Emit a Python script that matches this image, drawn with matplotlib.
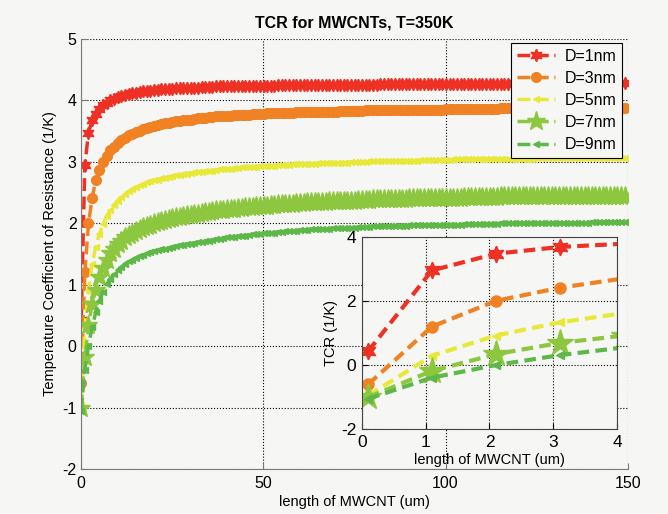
import matplotlib
matplotlib.use('Agg')
import matplotlib.pyplot as plt
import numpy as np

plt.rcParams['font.family'] = ['Liberation Sans', 'DejaVu Sans']
plt.rcParams['axes.unicode_minus'] = False

# length of MWCNT (um), sampled every 1 um starting at 0.1
length_um = np.arange(150) + 0.1

tcr_d1 = [0.43, 2.95, 3.47, 3.68, 3.78, 3.86, 3.92, 3.96, 4.00, 4.03,
          4.05, 4.07, 4.09, 4.10, 4.12, 4.13, 4.14, 4.15, 4.15, 4.16,
          4.17, 4.17, 4.18, 4.18, 4.19, 4.19, 4.20, 4.20, 4.20, 4.21,
          4.21, 4.21, 4.21, 4.22, 4.22, 4.22, 4.22, 4.23, 4.23, 4.23,
          4.23, 4.23, 4.23, 4.23, 4.23, 4.24, 4.24, 4.24, 4.24, 4.24,
          4.24, 4.24, 4.24, 4.24, 4.25, 4.25, 4.25, 4.25, 4.25, 4.25,
          4.25, 4.25, 4.25, 4.25, 4.26, 4.26, 4.26, 4.26, 4.26, 4.26,
          4.26, 4.26, 4.26, 4.26, 4.26, 4.26, 4.26, 4.26, 4.26, 4.26,
          4.26, 4.26, 4.27, 4.27, 4.27, 4.27, 4.27, 4.27, 4.27, 4.27,
          4.27, 4.27, 4.27, 4.27, 4.27, 4.27, 4.27, 4.27, 4.27, 4.27,
          4.27, 4.27, 4.27, 4.27, 4.27, 4.27, 4.27, 4.27, 4.27, 4.27,
          4.27, 4.27, 4.27, 4.27, 4.27, 4.27, 4.27, 4.27, 4.28, 4.28,
          4.28, 4.28, 4.28, 4.28, 4.28, 4.28, 4.28, 4.28, 4.28, 4.28,
          4.28, 4.28, 4.28, 4.28, 4.28, 4.28, 4.28, 4.28, 4.28, 4.28,
          4.28, 4.28, 4.28, 4.28, 4.28, 4.28, 4.28, 4.28, 4.28, 4.28]

tcr_d3 = [-0.60, 1.20, 2.00, 2.41, 2.70, 2.87, 3.00, 3.10, 3.19, 3.25,
          3.31, 3.35, 3.39, 3.43, 3.46, 3.49, 3.51, 3.53, 3.55, 3.57,
          3.59, 3.60, 3.62, 3.63, 3.64, 3.65, 3.66, 3.67, 3.68, 3.69,
          3.69, 3.70, 3.71, 3.71, 3.72, 3.73, 3.73, 3.74, 3.74, 3.75,
          3.75, 3.75, 3.76, 3.76, 3.77, 3.77, 3.77, 3.78, 3.78, 3.78,
          3.78, 3.79, 3.79, 3.79, 3.79, 3.80, 3.80, 3.80, 3.80, 3.81,
          3.81, 3.81, 3.81, 3.81, 3.82, 3.82, 3.82, 3.82, 3.82, 3.82,
          3.82, 3.83, 3.83, 3.83, 3.83, 3.83, 3.83, 3.83, 3.84, 3.84,
          3.84, 3.84, 3.84, 3.84, 3.84, 3.84, 3.84, 3.84, 3.85, 3.85,
          3.85, 3.85, 3.85, 3.85, 3.85, 3.85, 3.85, 3.85, 3.85, 3.85,
          3.86, 3.86, 3.86, 3.86, 3.86, 3.86, 3.86, 3.86, 3.86, 3.86,
          3.86, 3.86, 3.86, 3.86, 3.86, 3.87, 3.87, 3.87, 3.87, 3.87,
          3.87, 3.87, 3.87, 3.87, 3.87, 3.87, 3.87, 3.87, 3.87, 3.87,
          3.87, 3.87, 3.87, 3.87, 3.87, 3.87, 3.88, 3.88, 3.88, 3.88,
          3.88, 3.88, 3.88, 3.88, 3.88, 3.88, 3.88, 3.88, 3.88, 3.88]

tcr_d5 = [-0.95, 0.29, 0.92, 1.33, 1.62, 1.83, 1.99, 2.12, 2.22, 2.30,
          2.37, 2.43, 2.48, 2.52, 2.56, 2.59, 2.62, 2.64, 2.67, 2.69,
          2.70, 2.71, 2.73, 2.74, 2.76, 2.77, 2.78, 2.79, 2.80, 2.81,
          2.82, 2.83, 2.83, 2.84, 2.85, 2.86, 2.86, 2.87, 2.88, 2.88,
          2.89, 2.89, 2.90, 2.90, 2.91, 2.91, 2.92, 2.92, 2.92, 2.93,
          2.93, 2.94, 2.94, 2.94, 2.95, 2.95, 2.95, 2.95, 2.96, 2.96,
          2.96, 2.97, 2.97, 2.97, 2.97, 2.98, 2.98, 2.98, 2.98, 2.99,
          2.99, 2.99, 2.99, 2.99, 3.00, 3.00, 3.00, 3.00, 3.00, 3.01,
          3.01, 3.01, 3.01, 3.01, 3.01, 3.01, 3.02, 3.02, 3.02, 3.02,
          3.02, 3.02, 3.02, 3.03, 3.03, 3.03, 3.03, 3.03, 3.03, 3.03,
          3.03, 3.03, 3.04, 3.04, 3.04, 3.04, 3.04, 3.04, 3.04, 3.04,
          3.04, 3.04, 3.04, 3.05, 3.05, 3.05, 3.05, 3.05, 3.05, 3.05,
          3.05, 3.05, 3.05, 3.05, 3.05, 3.06, 3.06, 3.06, 3.06, 3.06,
          3.06, 3.06, 3.06, 3.06, 3.06, 3.06, 3.06, 3.06, 3.06, 3.06,
          3.06, 3.07, 3.07, 3.07, 3.07, 3.07, 3.07, 3.07, 3.07, 3.07]

tcr_d7 = [-1.00, -0.18, 0.34, 0.69, 0.92, 1.12, 1.28, 1.41, 1.51, 1.59,
          1.66, 1.72, 1.77, 1.81, 1.85, 1.88, 1.91, 1.94, 1.96, 1.98,
          2.00, 2.02, 2.04, 2.05, 2.07, 2.08, 2.10, 2.11, 2.12, 2.13,
          2.14, 2.15, 2.16, 2.17, 2.18, 2.19, 2.20, 2.21, 2.21, 2.22,
          2.23, 2.23, 2.24, 2.25, 2.25, 2.26, 2.27, 2.27, 2.28, 2.28,
          2.29, 2.29, 2.30, 2.30, 2.31, 2.31, 2.32, 2.32, 2.32, 2.33,
          2.33, 2.33, 2.34, 2.34, 2.34, 2.35, 2.35, 2.35, 2.36, 2.36,
          2.36, 2.36, 2.37, 2.37, 2.37, 2.37, 2.38, 2.38, 2.38, 2.38,
          2.39, 2.39, 2.39, 2.39, 2.39, 2.40, 2.40, 2.40, 2.40, 2.40,
          2.41, 2.41, 2.41, 2.41, 2.41, 2.41, 2.41, 2.42, 2.42, 2.42,
          2.42, 2.42, 2.42, 2.42, 2.42, 2.43, 2.43, 2.43, 2.43, 2.43,
          2.43, 2.43, 2.43, 2.43, 2.43, 2.44, 2.44, 2.44, 2.44, 2.44,
          2.44, 2.44, 2.44, 2.44, 2.44, 2.44, 2.44, 2.44, 2.45, 2.45,
          2.45, 2.45, 2.45, 2.45, 2.45, 2.45, 2.45, 2.45, 2.45, 2.45,
          2.45, 2.45, 2.45, 2.45, 2.45, 2.45, 2.45, 2.45, 2.45, 2.45]

tcr_d9 = [-1.05, -0.39, 0.00, 0.31, 0.55, 0.74, 0.89, 1.01, 1.10, 1.18,
          1.24, 1.29, 1.34, 1.38, 1.41, 1.44, 1.47, 1.49, 1.51, 1.53,
          1.55, 1.56, 1.58, 1.59, 1.60, 1.62, 1.63, 1.64, 1.65, 1.66,
          1.67, 1.68, 1.69, 1.70, 1.71, 1.72, 1.73, 1.74, 1.75, 1.76,
          1.77, 1.78, 1.78, 1.79, 1.80, 1.80, 1.81, 1.82, 1.82, 1.83,
          1.84, 1.84, 1.85, 1.85, 1.86, 1.86, 1.87, 1.87, 1.88, 1.88,
          1.89, 1.89, 1.89, 1.90, 1.90, 1.90, 1.91, 1.91, 1.91, 1.92,
          1.92, 1.92, 1.93, 1.93, 1.93, 1.93, 1.94, 1.94, 1.94, 1.94,
          1.95, 1.95, 1.95, 1.95, 1.95, 1.96, 1.96, 1.96, 1.96, 1.96,
          1.97, 1.97, 1.97, 1.97, 1.97, 1.97, 1.97, 1.98, 1.98, 1.98,
          1.98, 1.98, 1.98, 1.98, 1.98, 1.99, 1.99, 1.99, 1.99, 1.99,
          1.99, 1.99, 1.99, 1.99, 1.99, 2.00, 2.00, 2.00, 2.00, 2.00,
          2.00, 2.00, 2.00, 2.00, 2.00, 2.00, 2.00, 2.01, 2.01, 2.01,
          2.01, 2.01, 2.01, 2.01, 2.01, 2.01, 2.01, 2.01, 2.01, 2.01,
          2.02, 2.02, 2.02, 2.02, 2.02, 2.02, 2.02, 2.02, 2.02, 2.02]

labels = ['D=1nm', 'D=3nm', 'D=5nm', 'D=7nm', 'D=9nm']
series = [tcr_d1, tcr_d3, tcr_d5, tcr_d7, tcr_d9]

colors = ['#EE3124', '#F08223', '#E8E838', '#8DC63F', '#5DB848']
markers = [(6, 1, 0), 'o', '<', '*', '<']
main_ms = [9, 7, 5, 14, 5]
inset_ms = [12, 8, 6, 20, 6]
bg = '#F6F7F5'

fig = plt.figure(figsize=(6.68, 5.14), dpi=100, facecolor=bg)
ax = fig.add_axes([0.121, 0.0875, 0.819, 0.8365])
ax.set_facecolor(bg)

for y, lab, c, m, ms in zip(series, labels, colors, markers, main_ms):
    ax.plot(length_um, y, ls='--', lw=2.5, color=c, marker=m, ms=ms,
            mec=c, mfc=c, label=lab)

ax.set_xlim(0, 150)
ax.set_ylim(-2, 5)
ax.set_xticks([0, 50, 100, 150])
ax.set_yticks(range(-2, 6))
ax.grid(True, ls=':', color='k', lw=0.8)
for s in ['top', 'right']:
    ax.spines[s].set_visible(False)
for s in ['left', 'bottom']:
    ax.spines[s].set_color('#7a7a7a')
ax.tick_params(direction='in', length=4, color='#7a7a7a', labelsize=11.5)
ax.tick_params(axis='x', pad=5)
ax.tick_params(axis='y', pad=3)
ax.set_title('TCR for MWCNTs, T=350K', fontsize=11.5, fontweight='bold', pad=8)
ax.set_xlabel('length of MWCNT (um)', fontsize=10.5, labelpad=3)
ax.set_ylabel('Temperature Coefficient of Resistance (1/K)', fontsize=10.5, labelpad=4)

leg = ax.legend(loc='upper right', bbox_to_anchor=(0.989, 0.991), borderaxespad=0,
                fontsize=11.5, numpoints=1, fancybox=False, edgecolor='k',
                facecolor=bg, framealpha=1, handlelength=2.4, handletextpad=0.6,
                labelspacing=0.45, borderpad=0.35)
leg.get_frame().set_linewidth(0.8)

# inset zoom on the first 4 um
axin = fig.add_axes([0.5415, 0.1648, 0.3825, 0.3747])
axin.set_facecolor(bg)
for y, c, m, ms in zip(series, colors, markers, inset_ms):
    axin.plot(length_um, y, color=c, lw=3, dashes=(2.8, 1.5), marker=m, ms=ms,
              mec=c, mfc=c)
axin.set_xlim(0, 4)
axin.set_ylim(-2, 4)
axin.set_xticks(range(0, 5))
axin.set_yticks([-2, 0, 2, 4])
axin.grid(True, ls=':', color='k', lw=0.8)
for s in axin.spines.values():
    s.set_color('#444444')
axin.tick_params(direction='in', length=4, labelsize=12.5, pad=4)
axin.set_xlabel('length of MWCNT (um)', fontsize=10.5, labelpad=2)
axin.set_ylabel('TCR (1/K)', fontsize=10.5, labelpad=2)

fig.savefig('out.png', dpi=100, facecolor=bg)
